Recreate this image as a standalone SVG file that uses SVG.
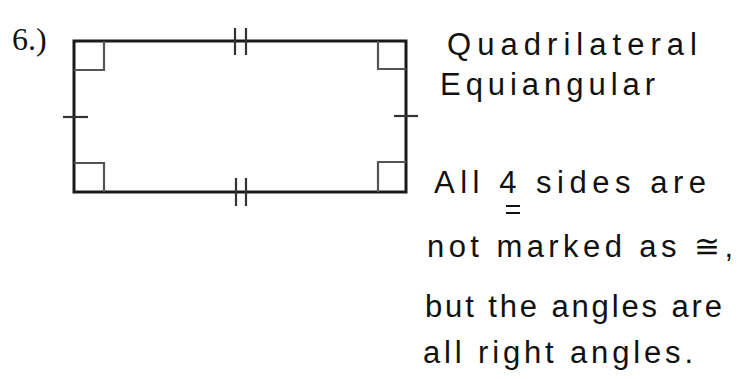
<svg xmlns="http://www.w3.org/2000/svg" width="753" height="379" viewBox="0 0 753 379">
<style>
.side{fill:none;stroke:#1a1a1a;stroke-width:3}
.ra{fill:none;stroke:#555;stroke-width:2.2}
.tick{stroke:#333;stroke-width:2.2}
.hand{font-family:"Liberation Sans",Arial,sans-serif;fill:#111;font-size:31px}
.num{font-family:"Liberation Serif","Times New Roman",serif;fill:#111;font-size:32px}
</style>
<rect width="753" height="379" fill="#fff"/>
<g id="label-6"><text class="num" x="12" y="50">6.)</text></g>
<g id="rectangle">
<rect class="side" x="74" y="41" width="332" height="151"/>
</g>
<g id="right-angles">
<polyline class="ra" points="74,70 104,70 104,41"/>
<polyline class="ra" points="406,69 378,69 378,41"/>
<polyline class="ra" points="74,163 104,163 104,192"/>
<polyline class="ra" points="406,162 378,162 378,192"/>
</g>
<g id="ticks">
<line class="tick" x1="235" y1="28" x2="235" y2="55"/>
<line class="tick" x1="246" y1="28" x2="246" y2="55"/>
<line class="tick" x1="236" y1="178" x2="236" y2="206"/>
<line class="tick" x1="246" y1="178" x2="246" y2="206"/>
<line class="tick" x1="63" y1="117" x2="88" y2="117"/>
<line class="tick" x1="394" y1="116" x2="418" y2="116"/>
</g>
<g id="notes">
<text class="hand" x="447" y="55" font-size="36" textLength="250" lengthAdjust="spacing">Quadrilateral</text>
<text class="hand" x="440" y="95" font-size="29" textLength="215" lengthAdjust="spacing">Equiangular</text>
<text class="hand" x="434" y="193" textLength="272" lengthAdjust="spacing">All 4 sides are</text>
<line x1="506" y1="206" x2="520" y2="206" stroke="#111" stroke-width="2"/>
<line x1="506" y1="213" x2="520" y2="213" stroke="#111" stroke-width="2"/>
<text class="hand" x="427" y="257" textLength="306" lengthAdjust="spacing">not marked as ≅,</text>
<text class="hand" x="425" y="317" textLength="297" lengthAdjust="spacing">but the angles are</text>
<text class="hand" x="423" y="363" textLength="270" lengthAdjust="spacing">all right angles.</text>
</g>
</svg>
